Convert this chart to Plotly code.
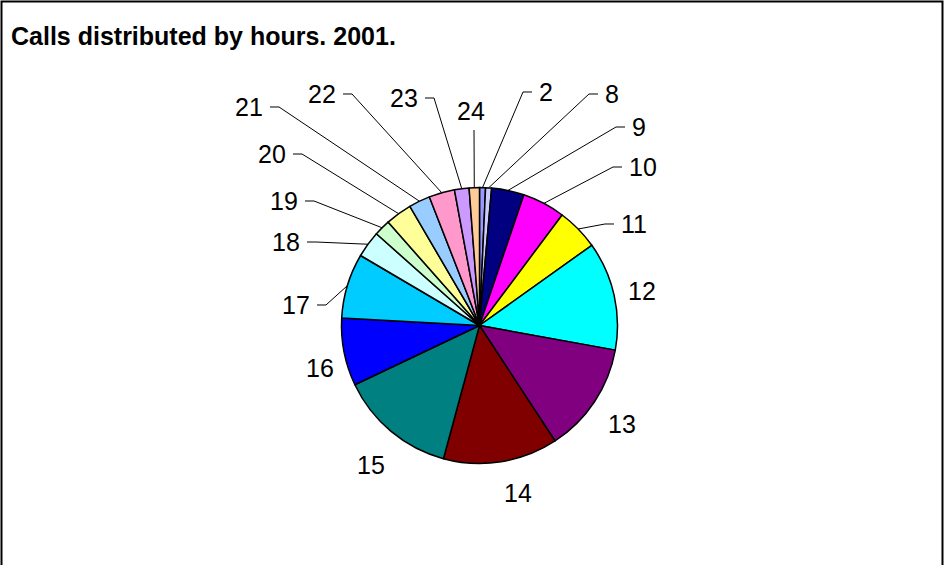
import math
import plotly.graph_objects as go

# Calls per hour of day, 2001
hours = ["2", "8", "9", "10", "11", "12", "13", "14", "15", "16",
         "17", "18", "19", "20", "21", "22", "23", "24"]
calls = [7, 7, 38, 50, 49, 127, 129, 134, 137, 79,
         76, 31, 19, 31, 25, 30, 17, 12]
slice_colors = ["#9999FF", "#CCCCFF", "#000080", "#FF00FF", "#FFFF00", "#00FFFF",
                "#800080", "#800000", "#008080", "#0000FF", "#00CCFF", "#CCFFFF",
                "#CCFFCC", "#FFFF99", "#99CCFF", "#FF99CC", "#CC99FF", "#FFCC99"]

# Label placement in page pixels: x, y, text anchor, leader line
label_place = {
    "2": (537, 92, "left", True),
    "8": (603, 94, "left", True),
    "9": (630, 127, "left", True),
    "10": (627, 167, "left", True),
    "11": (619, 224, "left", True),
    "12": (626, 291, "left", False),
    "13": (606, 424, "left", False),
    "14": (502, 493, "left", False),
    "15": (387, 465, "right", False),
    "16": (336, 368, "right", False),
    "17": (312, 305, "right", True),
    "18": (302, 242, "right", True),
    "19": (300, 201, "right", True),
    "20": (288, 154, "right", True),
    "21": (265, 107, "right", True),
    "22": (338, 94, "right", True),
    "23": (420, 98, "right", True),
    "24": (471, 111, "center", True),
}

W, H = 945, 565
CX, CY, R = 479.5, 325.5, 138
FONT = "Arial, Liberation Sans, sans-serif"


def px(x):
    return x / W


def py(y):
    return 1 - y / H


fig = go.Figure()
fig.add_trace(go.Pie(
    labels=hours,
    values=calls,
    sort=False,
    direction="clockwise",
    rotation=0,
    textinfo="none",
    hoverinfo="label+value+percent",
    showlegend=False,
    marker=dict(colors=slice_colors, line=dict(color="black", width=1.5)),
    domain=dict(x=[px(CX - R), px(CX + R)], y=[py(CY + R), py(CY - R)]),
))

annotations = [dict(
    text="<b>Calls distributed by hours. 2001.</b>",
    x=px(9), y=py(36), xref="paper", yref="paper",
    xanchor="left", yanchor="middle", showarrow=False,
    font=dict(family=FONT, size=25, color="black"),
)]
shapes = []

total = sum(calls)
cum = 0
for hour, v in zip(hours, calls):
    mid = 2 * math.pi * (cum + v / 2) / total
    cum += v
    rim_x = CX + R * math.sin(mid)
    rim_y = CY - R * math.cos(mid)
    lx, ly, anchor, leader = label_place[hour]
    annotations.append(dict(
        text=hour, x=px(lx), y=py(ly), xref="paper", yref="paper",
        xanchor=anchor, yanchor="middle", showarrow=False,
        font=dict(family=FONT, size=25, color="black"),
    ))
    if not leader:
        continue
    if anchor == "left":
        pts = [(rim_x, rim_y), (lx - 14, ly), (lx - 5, ly)]
    elif anchor == "right":
        pts = [(rim_x, rim_y), (lx + 14, ly), (lx + 5, ly)]
    else:
        pts = [(rim_x, rim_y), (lx + 3, ly + 19)]
    path = "M " + " L ".join(f"{px(a):.5f},{py(b):.5f}" for a, b in pts)
    shapes.append(dict(type="path", path=path, xref="paper", yref="paper",
                       line=dict(color="black", width=1)))

# chart frame (open at the bottom)
frame = [(1.5, H + 5), (1.5, 1.5), (942.5, 1.5), (942.5, H + 5)]
shapes.append(dict(
    type="path", xref="paper", yref="paper",
    path="M " + " L ".join(f"{px(a):.5f},{py(b):.5f}" for a, b in frame),
    line=dict(color="black", width=2),
))

fig.update_layout(
    width=W, height=H,
    margin=dict(l=0, r=0, t=0, b=0),
    paper_bgcolor="white", plot_bgcolor="white",
    annotations=annotations, shapes=shapes,
)

fig.write_html("out.html")
